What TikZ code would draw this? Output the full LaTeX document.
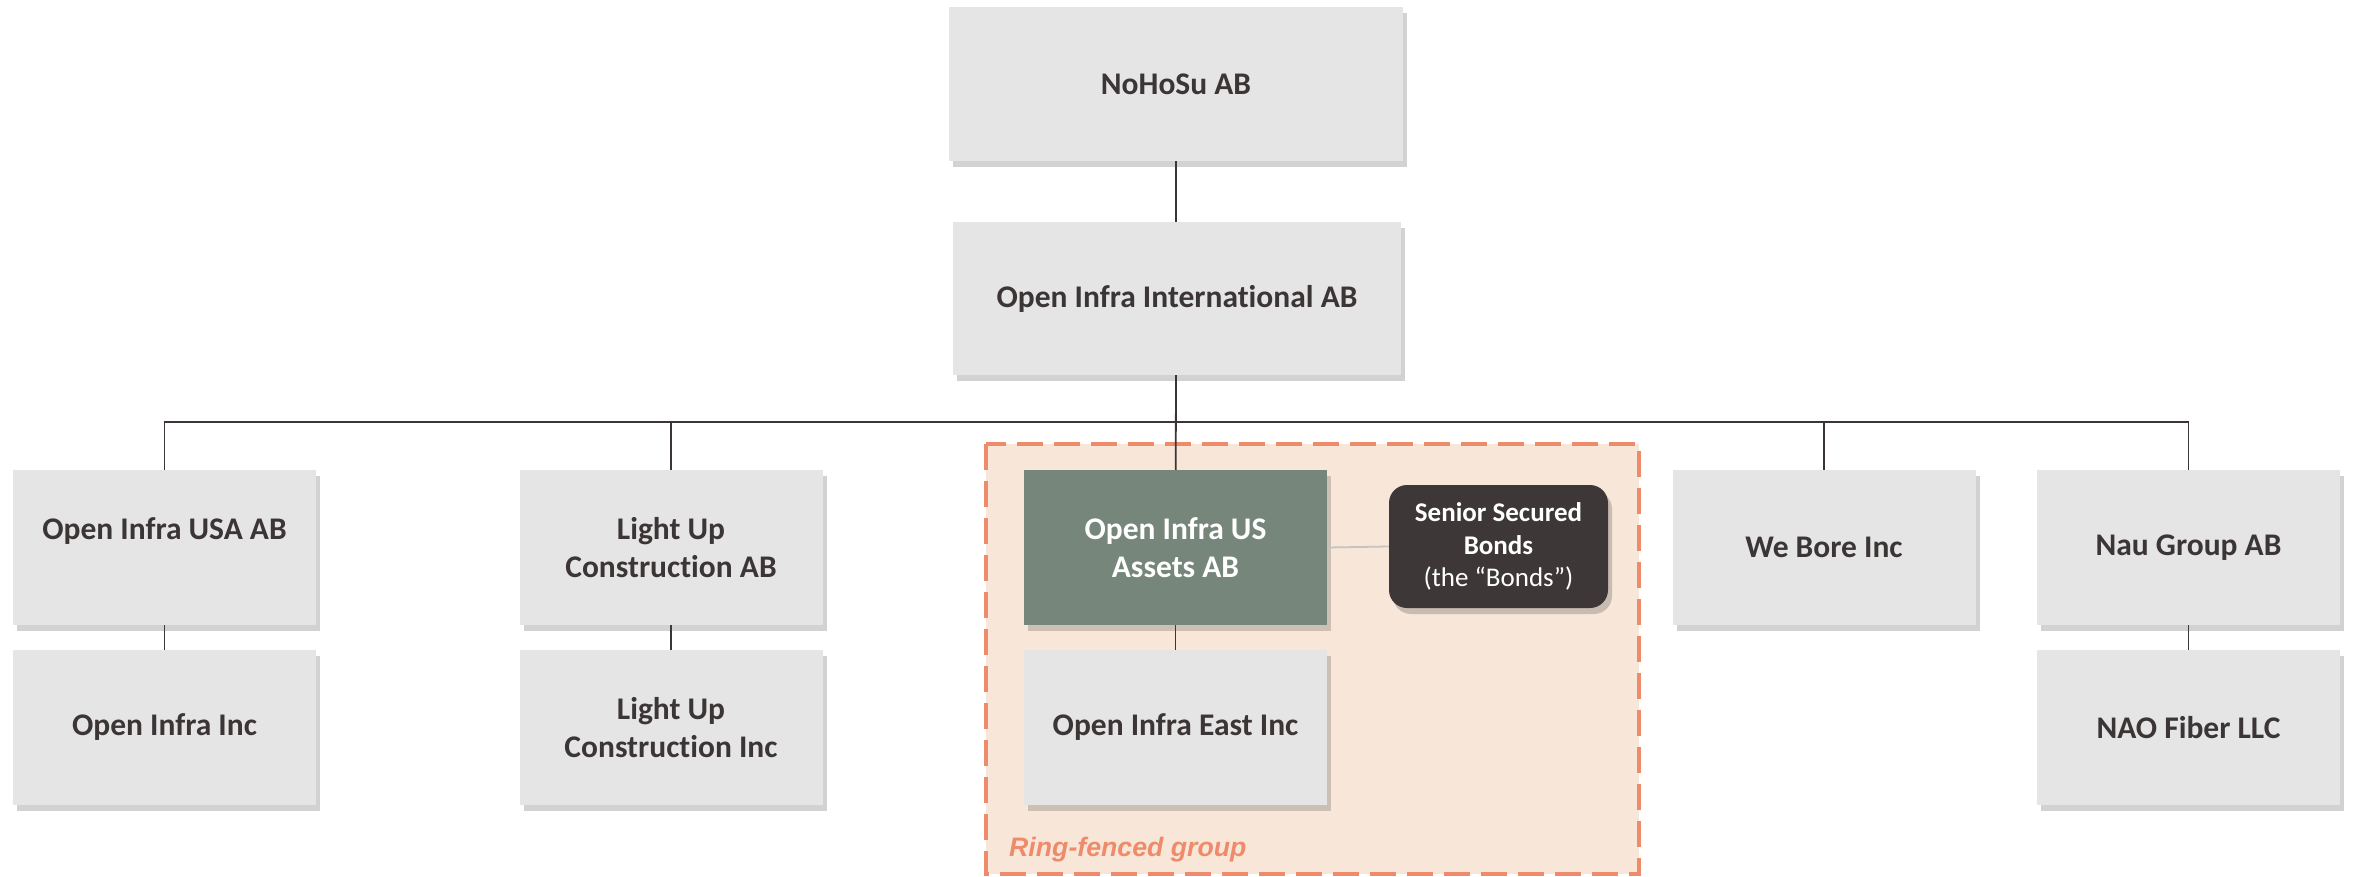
\documentclass[tikz,border=0pt]{standalone}
\usepackage{fontspec}
\setmainfont[Ligatures=NoCommon]{Carlito}
\newfontfamily\ringfont{Liberation Sans}
\usetikzlibrary{shadows}
\definecolor{boxgray}{HTML}{E5E5E5}
\definecolor{txtdark}{HTML}{3B3536}
\definecolor{assetgreen}{HTML}{76867A}
\definecolor{bondsdark}{HTML}{3D3837}
\definecolor{peach}{HTML}{F8E7D8}
\definecolor{salmon}{HTML}{EE8B6B}
\definecolor{linkgray}{HTML}{C4C4C4}
\tikzset{
  entity/.style={rectangle, fill=boxgray, draw=none, inner sep=0pt,
    minimum width=303pt, minimum height=155pt, align=center, text=txtdark,
    font=\fontsize{31.5}{38}\selectfont\bfseries,
    drop shadow={shadow xshift=4pt, shadow yshift=-6pt, opacity=0.25, fill=black!70}},
  assetbox/.style={entity, fill=assetgreen, text=white},
  bondbox/.style={rectangle, rounded corners=18pt, fill=bondsdark, inner sep=0pt,
    minimum width=219pt, minimum height=123pt, align=center, text=white,
    font=\fontsize{27}{32.5}\selectfont,
    drop shadow={shadow xshift=4pt, shadow yshift=-6pt, opacity=0.28, fill=black!70}},
  tie/.style={draw=txtdark, line width=1.8pt},
  softtie/.style={draw=linkgray, line width=1.8pt},
  fence/.style={draw=salmon, fill=peach, line width=4.5pt, dash pattern=on 26pt off 11pt},
}
\begin{document}
\begin{tikzpicture}[x=1pt, y=-1pt]
\useasboundingbox (0,0) rectangle (2354,876);
% ring-fenced area
\draw[fence] (986,444) rectangle (1639,874);
\node[anchor=base west, inner sep=0pt, text=salmon, font=\ringfont\fontsize{26.7}{30}\selectfont\bfseries\itshape] (ringlbl) at (1009,856) {Ring-fenced group};
% bus point
\coordinate (bus) at (1176,422);
\node[entity, minimum width=454pt, minimum height=154pt] (nohosu) at (1176,84) {NoHoSu AB};
\node[entity, minimum width=448pt, minimum height=153pt] (oii) at (1177,298.5) {Open Infra International AB};
\coordinate (c1) at (164.5,547.5);
\coordinate (c2) at (671,547.5);
\coordinate (c3) at (1175.5,547.5);
\coordinate (c4) at (1824,547.5);
\coordinate (c5) at (2188.5,547.5);
\draw[tie] (nohosu.south -| bus) -- (oii.north -| bus);
\draw[tie] (oii.south -| bus) -- (c3);
\draw[tie] (c1) |- (bus) -| (c5);
\draw[tie] (c2) -- (c2 |- bus);
\draw[tie] (c4) -- (c4 |- bus);
\draw[tie] (c1) -- (164.5,727.5);
\draw[tie] (c2) -- (671,727.5);
\draw[tie] (c3) -- (1175.5,727.5);
\draw[tie] (c5) -- (2188.5,727.5);
% row 1
\node[entity] (oiusa) at (c1) {Open Infra USA AB\\\mbox{}};
\node[entity] (lucab) at (c2) {Light Up\\Construction AB};
\node[assetbox] (oius) at (c3) {Open Infra US\\Assets AB};
\node[entity] (webore) at (c4) {We Bore Inc};
\node[entity] (nau) at (c5) {Nau Group AB};
% row 2
\node[entity] (oiinc) at (164.5,727.5) {Open Infra Inc};
\node[entity] (lucinc) at (671,727.5) {Light Up\\Construction Inc};
\node[entity] (oieast) at (1175.5,727.5) {Open Infra East Inc};
\node[entity] (nao) at (2188.5,727.5) {NAO Fiber LLC};
% bonds
\node[bondbox] (bonds) at (1498.5,546.5) {\bfseries Senior Secured\\\bfseries Bonds\\(the “Bonds”)};
\draw[softtie] (oius.east) -- (bonds.west);
\end{tikzpicture}
\end{document}
